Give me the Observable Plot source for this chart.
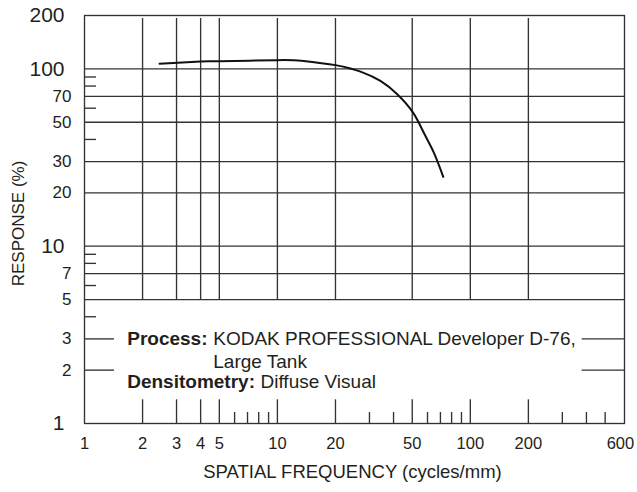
<!DOCTYPE html>
<html><head><meta charset="utf-8">
<script src="https://cdn.jsdelivr.net/npm/d3@7"></script>
<script src="https://cdn.jsdelivr.net/npm/@observablehq/plot@0.6"></script>
<style>body{margin:0;background:#fff} svg{display:block}</style>
</head><body><div id="chart"></div>
<script>
// Data
const freq = [2.45, 4, 5, 10, 13.3, 20, 23.9, 28, 34.2, 41.8, 50.6, 57.4, 64.7, 72.4];
const resp = [107, 110, 110.5, 112, 111, 105, 100.5, 95, 85.5, 72, 56.5, 43.6, 33.7, 24.6];

const xTickLabels = [1, 2, 3, 4, 5, 10, 20, 50, 100, 200, 600];
const xGrid = [2, 3, 4, 5, 10, 20, 50, 100, 200];
const xMinor = [6, 7, 8, 9, 30, 40, 60, 70, 80, 90, 300, 400, 500];
const yMajorLabels = [1, 10, 100, 200];
const yMinorLabels = [2, 3, 5, 7, 20, 30, 50, 70];
const yGrid = [5, 7, 10, 20, 30, 50, 70, 100];
const yShort = [2, 3];
const yMinor = [4, 6, 8, 9, 40, 60, 80, 90];

const xTitle = ["SPATIAL FREQUENCY (cycles/mm)"];
const yTitle = ["RESPONSE (%)"];
const noteProcessLabel = ["Process:"];
const noteProcessText = ["KODAK PROFESSIONAL Developer D-76,"];
const noteProcessText2 = ["Large Tank"];
const noteDensLabel = ["Densitometry:"];
const noteDensText = ["Diffuse Visual"];

const data = freq.map((f, i) => ({f, r: resp[i]}));

const ink = "#231f20";
const grid = "#333333";
const gw = 1.35;
const font = "'Liberation Sans', Arial, Helvetica, sans-serif";

const chart = Plot.plot({
  width: 637, height: 492,
  marginLeft: 84, marginRight: 13, marginTop: 15, marginBottom: 69,
  style: {fontFamily: font, background: "#fff", color: ink, overflow: "visible"},
  x: {type: "log", domain: [1, 630], axis: null},
  y: {type: "log", domain: [1, 200], axis: null},
  marks: [
    Plot.ruleY(yGrid, {y: d => d, stroke: grid, strokeWidth: gw}),
    Plot.ruleY(yShort, {y: d => d, x1: 1, x2: 1.43, stroke: grid, strokeWidth: gw}),
    Plot.ruleY(yShort, {y: d => d, x1: 380, x2: 630, stroke: grid, strokeWidth: gw}),
    Plot.ruleY(yMinor, {y: d => d, x1: 1, x2: 1.154, stroke: grid, strokeWidth: gw}),
    Plot.ruleX(xGrid, {x: d => d, y1: 5, y2: 200, insetBottom: -3, stroke: grid, strokeWidth: gw}),
    Plot.ruleX(xGrid, {x: d => d, y1: 1, y2: 1.36, stroke: grid, strokeWidth: gw}),
    Plot.ruleX(xMinor, {x: d => d, y1: 1, y2: 1.154, stroke: grid, strokeWidth: gw}),
    Plot.frame({stroke: grid, strokeWidth: gw}),
    Plot.line(data, {x: "f", y: "r", curve: "natural", stroke: "#111", strokeWidth: 2}),
    Plot.text(yMajorLabels, {y: d => d, text: d => String(d), frameAnchor: "left", dx: -20, textAnchor: "end", fontSize: 21, fill: ink}),
    Plot.text(yMinorLabels, {y: d => d, text: d => String(d), frameAnchor: "left", dx: -13, textAnchor: "end", fontSize: 17, fill: ink}),
    Plot.text(xTickLabels, {x: d => d, text: d => String(d), frameAnchor: "bottom", dy: 25.5, fontSize: 16.5, fill: ink}),
    Plot.text(xTitle, {text: d => d, frameAnchor: "bottom", dx: -2, dy: 54, fontSize: 18.5, textAnchor: "middle", fill: ink}),
    Plot.text(yTitle, {text: d => d, frameAnchor: "left", dx: -66, dy: 4, rotate: -90, fontSize: 17, textAnchor: "middle", fill: ink}),
    Plot.text(noteProcessLabel, {text: d => d, x: () => 1.665, y: () => 3, textAnchor: "start", fontWeight: "bold", fontSize: 19, fill: ink}),
    Plot.text(noteProcessText, {text: d => d, x: () => 4.65, y: () => 3, textAnchor: "start", fontSize: 19, fill: ink}),
    Plot.text(noteProcessText2, {text: d => d, x: () => 4.65, y: () => 3, dy: 22.6, textAnchor: "start", fontSize: 19, fill: ink}),
    Plot.text(noteDensLabel, {text: d => d, x: () => 1.665, y: () => 3, dy: 43, textAnchor: "start", fontWeight: "bold", fontSize: 19, fill: ink}),
    Plot.text(noteDensText, {text: d => d, x: () => 8.17, y: () => 3, dy: 43, textAnchor: "start", fontSize: 19, fill: ink})
  ]
});
document.getElementById("chart").appendChild(chart);
</script>
</body></html>
